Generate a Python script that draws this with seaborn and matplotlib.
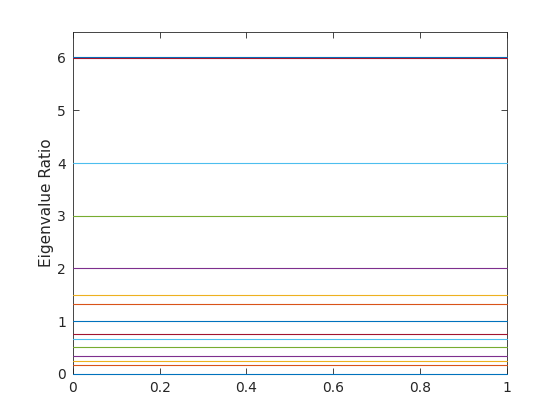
import pandas as pd
import matplotlib
matplotlib.use('Agg')
import matplotlib.pyplot as plt
import seaborn as sns

# nilai rasio eigen (garis horizontal)
ratios = [0.0, 0.1667, 0.25, 0.3333, 0.5, 0.6667, 0.75, 1.0, 1.3333, 1.5, 2.0, 3.0, 4.0, 6.0, 6.02]
x_ends = [0.0, 1.0]
colors = ['#0072BD', '#D95319', '#EDB120', '#7E2F8E', '#77AC30', '#4DBEEE', '#A2142F']

sns.set_style('ticks')
plt.rcParams['font.family'] = ['DejaVu Sans']

rows = []
for i, r in enumerate(ratios):
    for x in x_ends:
        rows.append({'line': i, 'x': x, 'ratio': r})
df = pd.DataFrame(rows)

fig = plt.figure(figsize=(5.6, 4.2), dpi=100)
ax = fig.add_axes([0.13, 0.11, 0.775, 0.815])

# urutan gambar: garis biru terakhir di atas merah pada y=6
order = list(range(len(ratios) - 1))
order = order[:-1] + [len(ratios) - 1, len(ratios) - 2]
for i in order:
    sub = df[df['line'] == i]
    sns.lineplot(data=sub, x='x', y='ratio', color=colors[i % 7], lw=0.8,
                 ax=ax, clip_on=False, zorder=3)

ax.set_xlim(0, 1)
ax.set_ylim(0, 6.5)
ax.set_xticks([0, 0.2, 0.4, 0.6, 0.8, 1])
ax.set_xticklabels(['0', '0.2', '0.4', '0.6', '0.8', '1'])
ax.set_yticks([0, 1, 2, 3, 4, 5, 6])
ax.set_xlabel('')
ax.set_ylabel('Eigenvalue Ratio', fontsize=11, color='#262626', labelpad=2)
ax.tick_params(direction='in', length=4, width=0.6, colors='#262626',
               labelsize=10, top=True, right=True, pad=5)
for s in ax.spines.values():
    s.set_visible(True)
    s.set_linewidth(0.6)
    s.set_color('#262626')

fig.savefig('out.png', dpi=100)
